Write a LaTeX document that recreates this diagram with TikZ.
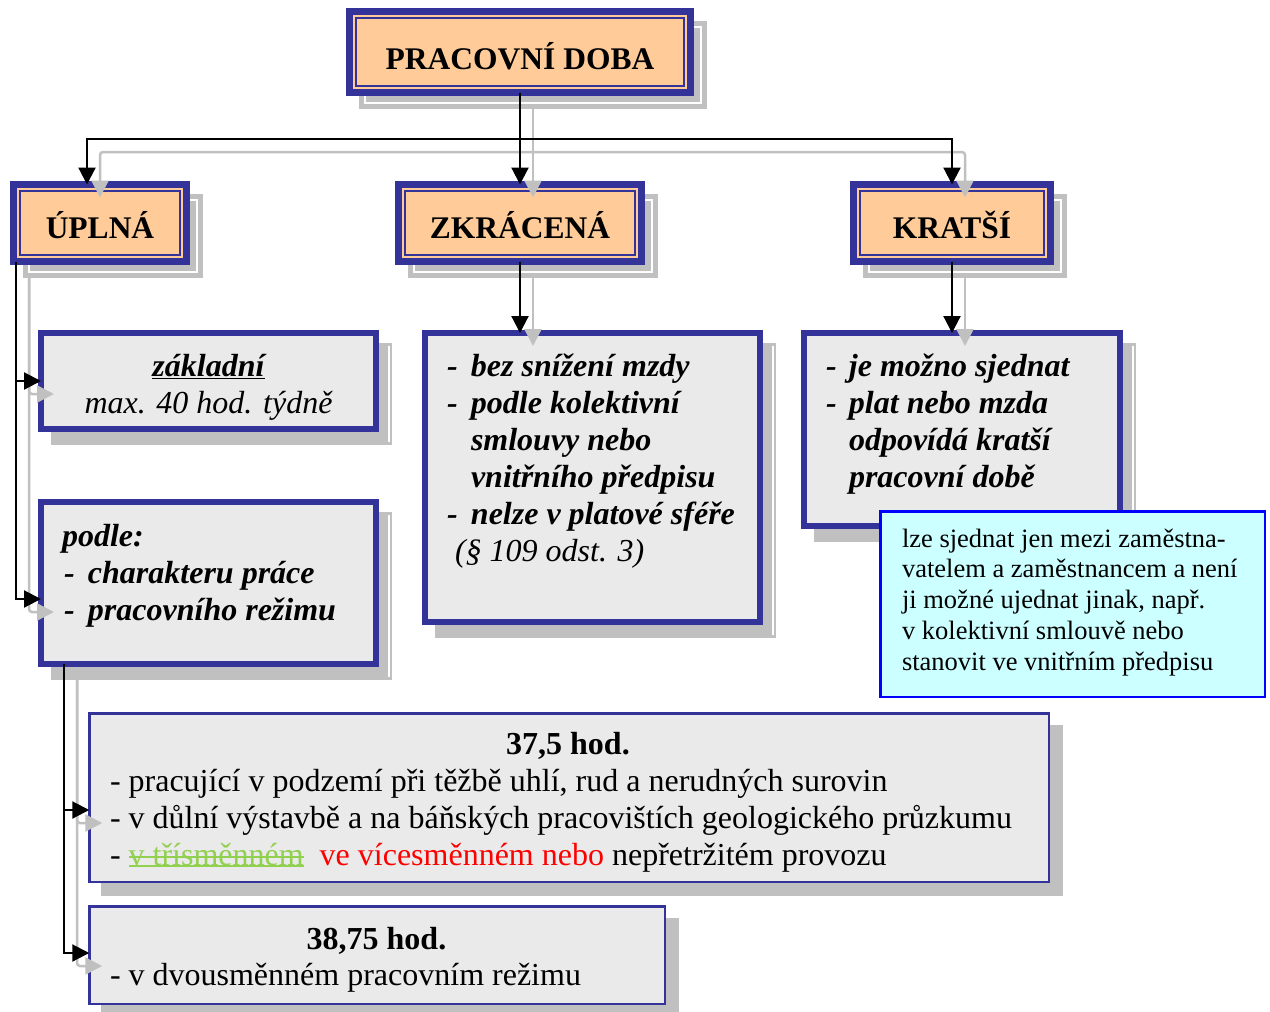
\documentclass[tikz,border=0pt]{standalone}
\usepackage{fontspec}
\setmainfont{Liberation Serif}
\usetikzlibrary{arrows.meta,calc}

\definecolor{frameblue}{RGB}{51,51,153}
\definecolor{peach}{RGB}{255,204,153}
\definecolor{panel}{RGB}{234,234,234}
\definecolor{shade}{RGB}{192,192,192}
\definecolor{notefill}{RGB}{204,255,255}
\definecolor{noteline}{RGB}{0,0,255}
\definecolor{insgreen}{RGB}{146,208,80}
\definecolor{altred}{RGB}{255,0,0}

% dash that opens a list line, set in a box of fixed width
\newcommand\itemdash[1]{\makebox[#1][l]{-}}
% text that was inserted and then deleted: underlined and struck through
\newcommand\delins[1]{{\color{insgreen}\sbox0{#1}%
  \rlap{\rule[0.23em]{\wd0}{1.3pt}}%
  \rlap{\rule[-0.05em]{\wd0}{1.3pt}}\usebox0}}
% thin inner rule of the title boxes
\newcommand\innerrule[1]{\draw[frameblue,line width=2pt]
  ([shift={(6.5,6.5)}]#1.north west) rectangle ([shift={(-6.5,-6.5)}]#1.south east);}

\begin{document}
\begin{tikzpicture}[x=1pt,y=-1pt,
  every node/.style={inner sep=0pt,outer sep=0pt},
  headbox/.style={draw=frameblue,line width=7pt,fill=peach,
    font=\fontsize{31.5}{36}\selectfont\bfseries},
  headlow/.style={text height=36pt,text depth=6pt},
  detbox/.style={draw=frameblue,line width=6pt,fill=panel},
  lowbox/.style={draw=frameblue,line width=2.5pt,fill=panel},
  notebox/.style={draw=noteline,line width=2.5pt,fill=notefill},
  body/.style={font=\fontsize{32}{37}\selectfont},
  notetext/.style={font=\fontsize{26.5}{30.75}\selectfont},
  shadowbox/.style={fill=shade},
  shadowrule/.style={draw=white,line width=1.5pt},
  link/.style={draw=black,line width=2.2pt,-{Triangle[length=17pt,width=17pt]}},
  echo/.style={draw=shade,line width=2.5pt,rounded corners=3pt,
    -{Triangle[length=17pt,width=17pt]}},
]
\useasboundingbox (0,0) rectangle (1270,1012);
\fill[white] (0,0) rectangle (1270,1012);

% ---------- drop shadows ----------
\fill[shadowbox] (359,21) rectangle (707,109);
\draw[shadowrule] (365,27) rectangle (701,103);
\fill[shadowbox] (23,194) rectangle (203,278);
\draw[shadowrule] (29,200) rectangle (197,272);
\fill[shadowbox] (408,194) rectangle (658,278);
\draw[shadowrule] (414,200) rectangle (652,272);
\fill[shadowbox] (863,194) rectangle (1067,278);
\draw[shadowrule] (869,200) rectangle (1061,272);

\fill[shadowbox] (51,343) rectangle (392,445);
\draw[shadowrule] (389,346) -- (389,442);
\fill[shadowbox] (51,512) rectangle (392,680);
\draw[shadowrule] (389,515) -- (389,677);
\fill[shadowbox] (435,343) rectangle (776,638);
\draw[shadowrule] (773,346) -- (773,635);
\fill[shadowbox] (814,343) rectangle (1136,542);
\draw[shadowrule] (1133,346) -- (1133,539);

\fill[shadowbox] (101,725) rectangle (1063,896);
\fill[shadowbox] (101,918) rectangle (679,1012);

% ---------- title boxes ----------
\node[headbox,minimum width=341pt,minimum height=81pt,text height=40pt,text depth=6pt]
  (top) at (520,52) {PRACOVNÍ DOBA};
\node[headbox,headlow,minimum width=173pt,minimum height=77pt] (upl) at (100,223) {ÚPLNÁ};
\node[headbox,headlow,minimum width=243pt,minimum height=77pt] (zkr) at (520,223) {ZKRÁCENÁ};
\node[headbox,headlow,minimum width=197pt,minimum height=77pt] (krt) at (952,223) {KRATŠÍ};
\innerrule{top}
\innerrule{upl}
\innerrule{zkr}
\innerrule{krt}

% ---------- detail boxes ----------
\node[detbox,minimum width=335pt,minimum height=96pt] (zakl) at (208.5,381) {};
\node[detbox,minimum width=335pt,minimum height=162pt] (podle) at (208.5,583) {};
\node[detbox,minimum width=335pt,minimum height=289pt] (zkrd) at (592.5,477.5) {};
\node[detbox,minimum width=316pt,minimum height=193pt] (krtd) at (962,429.5) {};
\node[notebox,minimum width=384.5pt,minimum height=185.5pt] (note) at (1072.5,604) {};
\node[lowbox,minimum width=959.5pt,minimum height=168.5pt] (low1) at (569,797.5) {};
\node[lowbox,minimum width=575.5pt,minimum height=97.5pt] (low2) at (377,955) {};

% ---------- connectors ----------
\coordinate (bus) at (520,139);
\coordinate (ltap) at ([xshift=2.5pt]upl.south west);
\coordinate (btap) at ([xshift=23pt]podle.south west);

% light echo of every connector, set 13 units right and down
\draw[echo] ([shift={(13,13)}]top.south) -- ([shift={(13,13)}]zkr.north);
\draw[echo] ([shift={(13,13)}]bus) -| ([shift={(0,13)}]upl.north);
\draw[echo] ([shift={(13,13)}]bus) -| ([shift={(13,13)}]krt.north);
\draw[echo] ([shift={(13,13)}]zkr.south) -- ([shift={(13,13)}]zkr.south |- zkrd.north);
\draw[echo] ([shift={(13,13)}]krt.south) -- ([shift={(13,13)}]krt.south |- krtd.north);
\draw[echo] ([shift={(13,13)}]ltap) |- ([shift={(13,13)}]zakl.west);
\draw[echo] ([shift={(13,13)}]ltap) |- ([shift={(13,29)}]podle.west);
\draw[echo] ([shift={(13,13)}]btap) |- ([shift={(13,25.5)}]low1.west);
\draw[echo] ([shift={(13,13)}]btap) |- ([shift={(13,11)}]low2.west);

\draw[link] (top.south) -- (zkr.north);
\draw[link] (bus) -| ([xshift=-13pt]upl.north);
\draw[link] (bus) -| (krt.north);
\draw[link] (zkr.south) -- (zkr.south |- zkrd.north);
\draw[link] (krt.south) -- (krt.south |- krtd.north);
\draw[link] (ltap) |- (zakl.west);
\draw[link] (ltap) |- ([shift={(0,16)}]podle.west);
\draw[link] (btap) |- ([shift={(0,12.5)}]low1.west);
\draw[link] (btap) |- ([shift={(0,-2)}]low2.west);

% ---------- texts ----------
\node[body,anchor=base] (zakl-head) at (208.5,376) {\bfseries\itshape\underline{základní}};
\node[body,anchor=base] (zakl-note) at (208.5,413) {\itshape max. 40 hod. týdně};

\node[body,anchor=base west] (zkrd-text) at (447,376) {\parbox[t]{310pt}{\bfseries\itshape
  \itemdash{24pt}bez snížení mzdy\\
  \itemdash{24pt}podle kolektivní\\
  \hspace*{24pt}smlouvy nebo\\
  \hspace*{24pt}vnitřního předpisu\\
  \itemdash{24pt}nelze v platové sféře\\
  \hspace*{8pt}\mdseries(§ 109 odst. 3)}};

\node[body,anchor=base west] (krtd-text) at (826,376) {\parbox[t]{290pt}{\bfseries\itshape
  \itemdash{23pt}je možno sjednat\\
  \itemdash{23pt}plat nebo mzda\\
  \hspace*{23pt}odpovídá kratší\\
  \hspace*{23pt}pracovní době}};

\node[notetext,anchor=base west] (note-text) at (902,547) {\parbox[t]{360pt}{%
  lze sjednat jen mezi zaměstna-\\
  vatelem a zaměstnancem a není\\
  ji možné ujednat jinak, např.\\
  v kolektivní smlouvě nebo\\
  stanovit ve vnitřním předpisu}};

\node[body,anchor=base west] (podle-text) at (62,546) {\parbox[t]{310pt}{\bfseries\itshape
  podle:\\
  \hspace*{2pt}\itemdash{24pt}charakteru práce\\
  \hspace*{2pt}\itemdash{24pt}pracovního režimu}};

\node[body,anchor=base] (low1-head) at (568,754) {\bfseries 37,5 hod.};
\node[body,anchor=base west] (low1-text) at (110,791) {\parbox[t]{930pt}{%
  - pracující v podzemí při těžbě uhlí, rud a nerudných surovin\\
  - v důlní výstavbě a na báňských pracovištích geologického průzkumu\\
  - \delins{v třísměnném}\ \ {\color{altred}ve vícesměnném nebo} nepřetržitém provozu}};

\node[body,anchor=base] (low2-head) at (376.5,949) {\bfseries 38,75 hod.};
\node[body,anchor=base west] (low2-text) at (110,985) {- v dvousměnném pracovním režimu};
\end{tikzpicture}
\end{document}
